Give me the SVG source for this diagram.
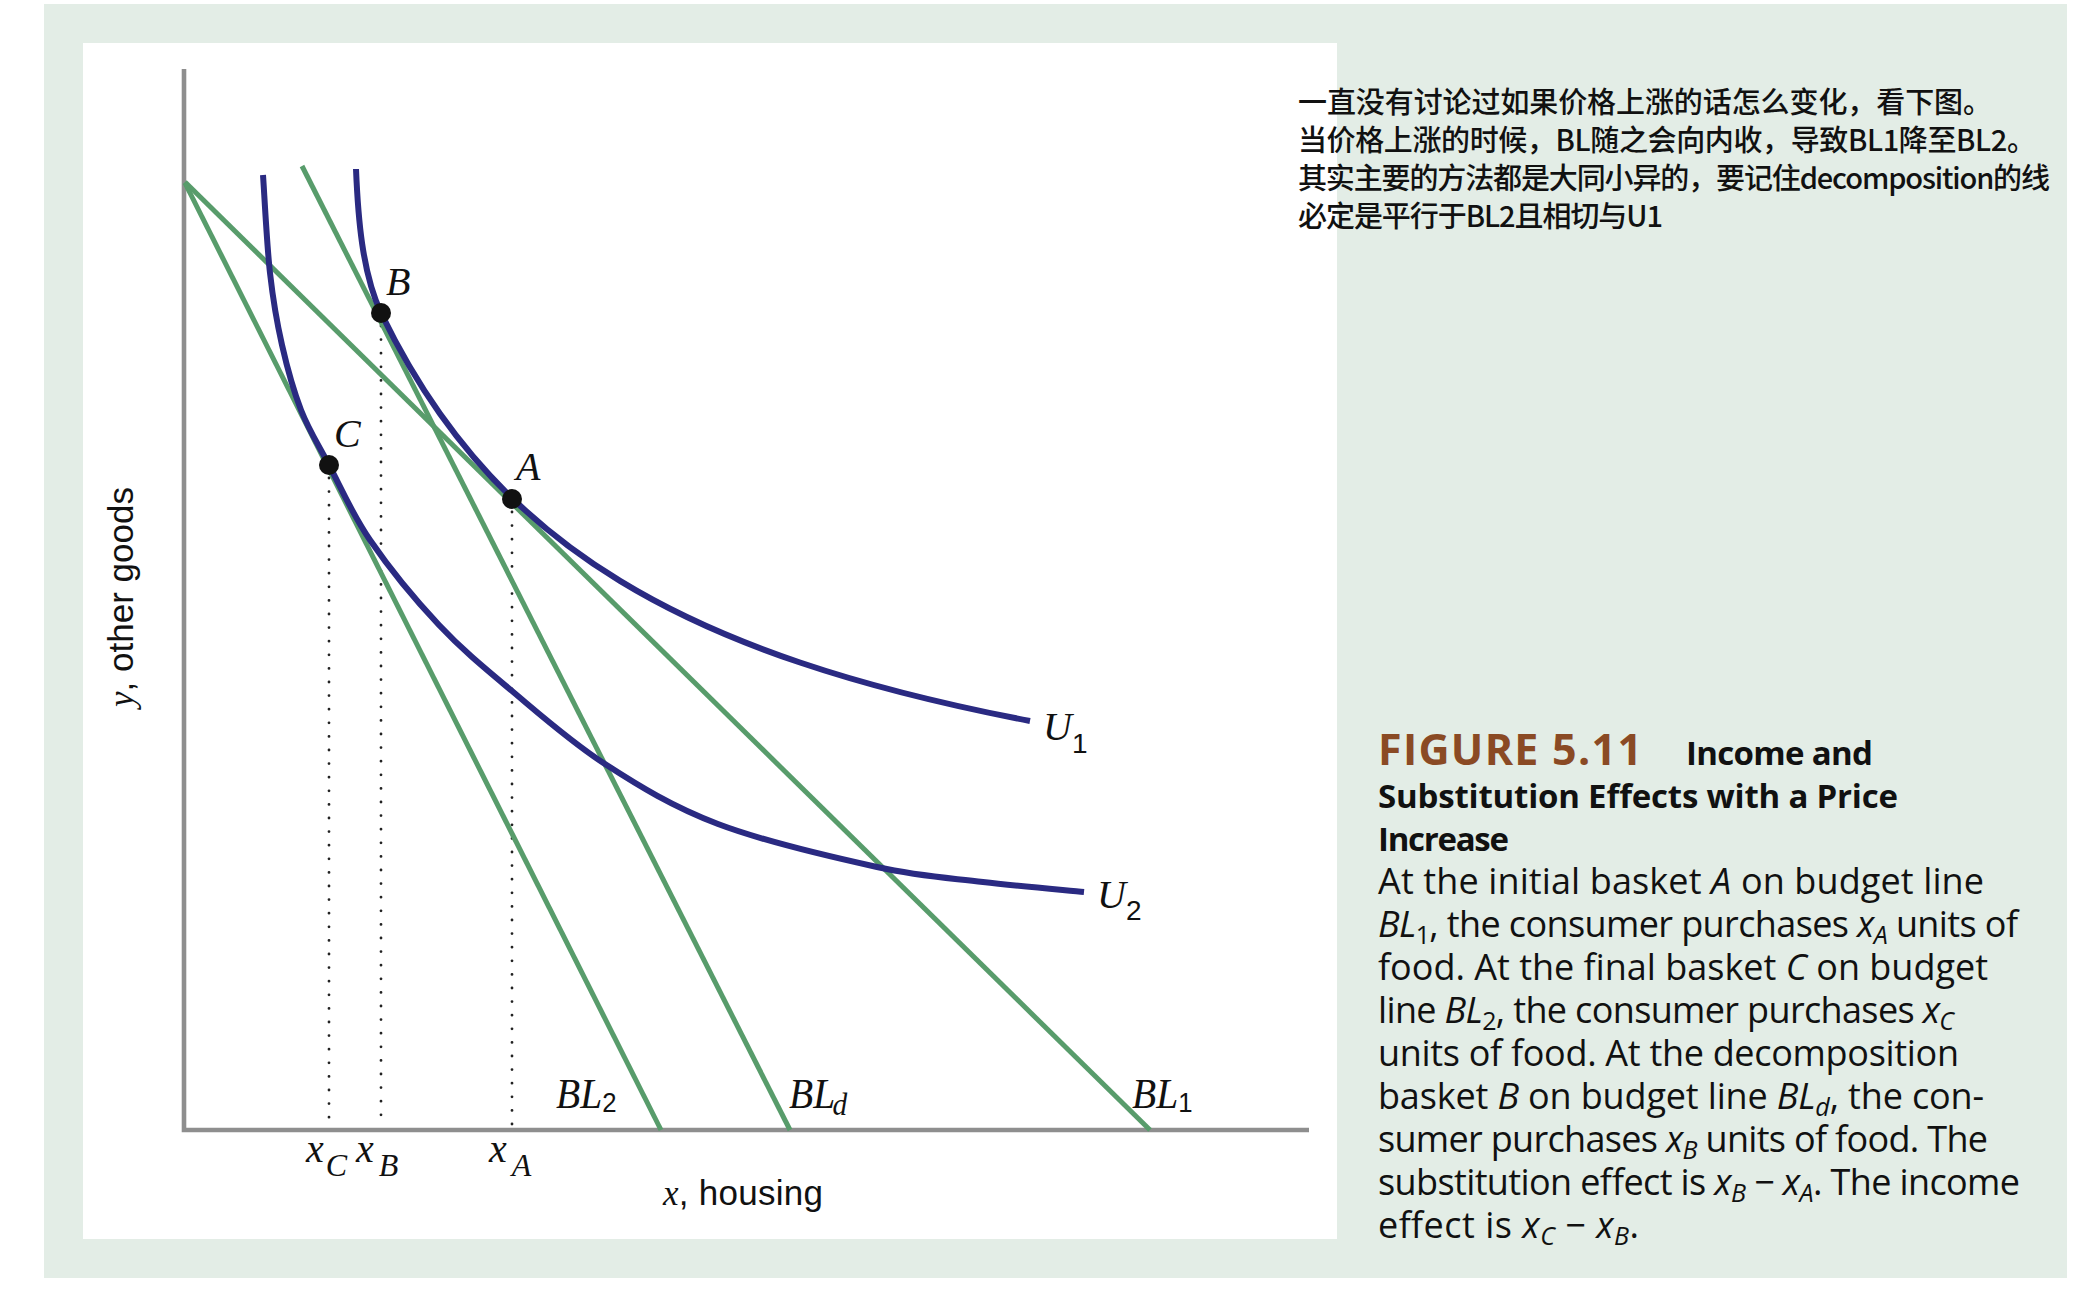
<svg xmlns="http://www.w3.org/2000/svg" width="2084" height="1290" viewBox="0 0 2084 1290">
<style>
.bl{stroke:#589c6b;stroke-width:5;fill:none}
.u{stroke:#2a2a82;stroke-width:6;fill:none}
.axis{stroke:#8e8e8e;stroke-width:4.6;fill:none}
.dl{stroke:#222;stroke-width:2.8;stroke-dasharray:0 13.6;stroke-linecap:round;fill:none}
.pt{fill:#111}
.lbl{font-family:"Liberation Serif",serif;font-style:italic;font-size:40px;fill:#111}
.bll{font-family:"Liberation Serif",serif;font-style:italic;font-size:43px;fill:#111}
.sub{font-family:"Liberation Sans",Arial,sans-serif;font-style:normal;font-size:28px}
.xl{font-family:"Liberation Serif",serif;font-style:italic;font-size:40px;fill:#111}
.xs{font-family:"Liberation Serif",serif;font-style:italic;font-size:32px}
.axl{font-family:"Liberation Sans",Arial,sans-serif;font-size:35px;fill:#111}
.ser{font-family:"Liberation Serif",serif;font-style:italic}
.cn{font-family:"Noto Sans CJK SC","Noto Sans",sans-serif;font-size:29px;font-weight:500;fill:#111}
.cap{font-family:"Open Sans",sans-serif;font-size:36px;fill:#111}
.capb{font-family:"Open Sans",sans-serif;font-weight:700;font-size:33px;fill:#111}
.fig{font-family:"Open Sans",sans-serif;font-weight:700;font-size:43px;fill:#8a4a24}
.i{font-style:italic}
.s{font-size:25px}
</style>
<rect x="0" y="0" width="2084" height="1290" fill="#ffffff"/>
<rect x="44" y="4" width="2023" height="1274" fill="#e3ede6"/>
<rect x="83" y="43" width="1254" height="1196" fill="#ffffff"/>

<g id="axes">
<path class="axis" d="M184,69 V1130 H1309"/>
<text class="axl" transform="translate(133,597) rotate(-90)" text-anchor="middle"><tspan class="ser">y</tspan>, other goods</text>
<text class="axl" x="663" y="1205" textLength="160"><tspan class="ser">x</tspan>, housing</text>
</g>

<g id="connectors">
<path id="dotC" class="dl" d="M329,478 V1127"/>
<path id="dotB" class="dl" d="M381,326 V1127"/>
<path id="dotA" class="dl" d="M512,512 V1127"/>
<path id="BL1" class="bl" d="M185,182 L1150,1130"/>
<path id="BL2" class="bl" d="M185,183 L661,1130"/>
<path id="BLd" class="bl" d="M302,166 L790,1130"/>
<path id="U1" class="u" d="M356,169 C358,217 362,272 381,313 C400.67,353.6 420.33,386 440,413.8 C464.33,448.2 488.67,475.6 513,499 C548.67,533.3 584.33,559.2 620,580.9 C680,617.5 740,642.3 800,662.5 C876.67,688.4 953.33,706.3 1030,721"/>
<path id="U2" class="u" d="M263,175 C264.2,191.3 266.8,244.7 270,273 C273.2,301.3 276.8,322.2 282,345 C287.2,367.8 293.2,390 301,410 C308.8,430 317.5,443.3 329,465 C340.5,486.7 351.7,513.3 370,540 C388.3,566.7 415.3,599.8 439,625 C462.7,650.2 484.3,667.8 512,691 C539.7,714.2 570.7,741.8 605,764 C639.3,786.2 672.7,806.8 718,824 C763.3,841.2 832.8,857.3 877,867 C921.2,876.7 948.5,877.8 983,882 C1017.5,886.2 1067.2,890.3 1084,892"/>
</g>

<g id="nodeB"><circle class="pt" cx="381" cy="313" r="10"/><text class="lbl" x="386" y="295">B</text></g>
<g id="nodeC"><circle class="pt" cx="329" cy="465" r="10"/><text class="lbl" x="334" y="447">C</text></g>
<g id="nodeA"><circle class="pt" cx="512" cy="499" r="10"/><text class="lbl" x="516" y="480">A</text></g>

<g id="labelU1"><text class="lbl" x="1043" y="740">U<tspan class="sub" dy="13">1</tspan></text></g>
<g id="labelU2"><text class="lbl" x="1097" y="908">U<tspan class="sub" dy="12">2</tspan></text></g>
<g id="labelBL2"><text class="bll" transform="translate(556,1108) scale(0.92,1)">BL<tspan class="sub" font-size="30" dy="4">2</tspan></text></g>
<g id="labelBLd"><text class="bll" transform="translate(789,1108) scale(0.92,1)">BL<tspan class="xs" dx="-3" dy="7">d</tspan></text></g>
<g id="labelBL1"><text class="bll" transform="translate(1132,1108) scale(0.92,1)">BL<tspan class="sub" font-size="30" dy="4">1</tspan></text></g>

<g id="ticks">
<text class="xl" x="306" y="1162">x<tspan class="xs" dx="2" dy="14">C</tspan></text>
<text class="xl" x="356" y="1162">x<tspan class="xs" dx="5" dy="14">B</tspan></text>
<text class="xl" x="489" y="1162">x<tspan class="xs" dx="5" dy="14">A</tspan></text>
</g>

<g id="note">
<text class="cn" x="1298" y="113" textLength="694">一直没有讨论过如果价格上涨的话怎么变化，看下图。</text>
<text class="cn" x="1298" y="151" textLength="738">当价格上涨的时候，BL随之会向内收，导致BL1降至BL2。</text>
<text class="cn" x="1298" y="189" textLength="752">其实主要的方法都是大同小异的，要记住decomposition的线</text>
<text class="cn" x="1298" y="227" textLength="365">必定是平行于BL2且相切与U1</text>
</g>

<g id="caption">
<text class="fig" x="1378" y="765" textLength="264">FIGURE 5.11</text>
<text class="capb" x="1686" y="765" textLength="187">Income and</text>
<text class="capb" x="1378" y="808" textLength="520">Substitution Effects with a Price</text>
<text class="capb" x="1378" y="851" textLength="131">Increase</text>
<text class="cap" x="1378" y="894" textLength="606">At the initial basket <tspan class="i">A</tspan> on budget line</text>
<text class="cap" x="1378" y="937" textLength="640"><tspan class="i">BL</tspan><tspan class="s" dy="7">1</tspan><tspan dy="-7">, the consumer purchases </tspan><tspan class="i">x</tspan><tspan class="i s" dy="7">A</tspan><tspan dy="-7"> units of</tspan></text>
<text class="cap" x="1378" y="980" textLength="610">food. At the final basket <tspan class="i">C</tspan> on budget</text>
<text class="cap" x="1378" y="1023" textLength="576">line <tspan class="i">BL</tspan><tspan class="s" dy="7">2</tspan><tspan dy="-7">, the consumer purchases </tspan><tspan class="i">x</tspan><tspan class="i s" dy="7">C</tspan></text>
<text class="cap" x="1378" y="1066" textLength="581">units of food. At the decomposition</text>
<text class="cap" x="1378" y="1109" textLength="606">basket <tspan class="i">B</tspan> on budget line <tspan class="i">BL</tspan><tspan class="i s" dy="7">d</tspan><tspan dy="-7">, the con-</tspan></text>
<text class="cap" x="1378" y="1152" textLength="610">sumer purchases <tspan class="i">x</tspan><tspan class="i s" dy="7">B</tspan><tspan dy="-7"> units of food. The</tspan></text>
<text class="cap" x="1378" y="1195" textLength="642">substitution effect is <tspan class="i">x</tspan><tspan class="i s" dy="7">B</tspan><tspan dy="-7"> − </tspan><tspan class="i">x</tspan><tspan class="i s" dy="7">A</tspan><tspan dy="-7">. The income</tspan></text>
<text class="cap" x="1378" y="1238" textLength="261">effect is <tspan class="i">x</tspan><tspan class="i s" dy="7">C</tspan><tspan dy="-7"> − </tspan><tspan class="i">x</tspan><tspan class="i s" dy="7">B</tspan><tspan dy="-7">.</tspan></text>
</g>
</svg>
